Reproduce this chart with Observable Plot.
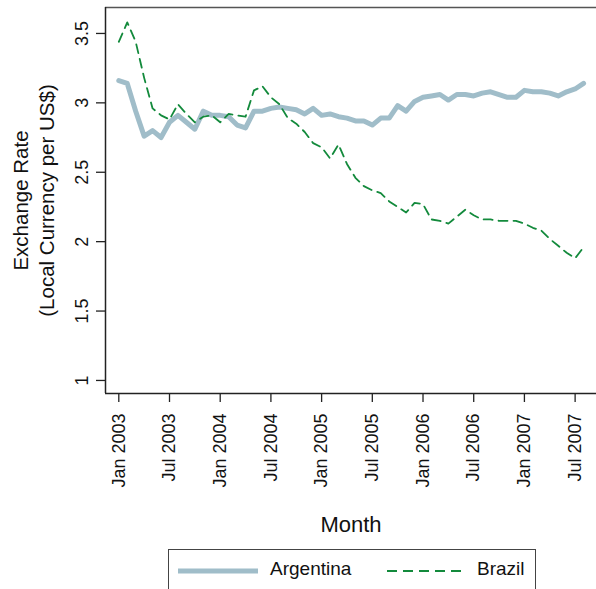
<!DOCTYPE html>
<html>
<head>
<meta charset="utf-8">
<script src="https://cdn.jsdelivr.net/npm/d3@7"></script>
<script src="https://cdn.jsdelivr.net/npm/@observablehq/plot@0.6"></script>
<style>
  body { margin: 0; background: #fff; font-family: "Liberation Sans", Arial, Helvetica, sans-serif; }
  #wrap { position: relative; width: 596px; height: 589px; overflow: hidden; background: #fff; }
  #legend { position: absolute; left: 168px; top: 549px; width: 368px; height: 50px; border: 1.5px solid #444; box-sizing: border-box; }
  .lg { position: absolute; font-size: 19px; color: #111; }
</style>
</head>
<body>
<div id="wrap">
  <div id="chart"></div>
  <div id="legend">
    <svg style="position:absolute;left:8px;top:16px" width="82" height="10"><line x1="1" y1="5" x2="81" y2="5" stroke="#a0bdc9" stroke-width="5"/></svg>
    <span class="lg" style="left:101px;top:8px">Argentina</span>
    <svg style="position:absolute;left:217px;top:16px" width="82" height="10"><line x1="1" y1="5" x2="81" y2="5" stroke="#138a3c" stroke-width="1.8" stroke-dasharray="10,6"/></svg>
    <span class="lg" style="left:308px;top:8px">Brazil</span>
  </div>
</div>
<script>
// Monthly observations, Jan 2003 .. Aug 2007 (index 0 = Jan 2003)
const months = ["2003-01","2003-02","2003-03","2003-04","2003-05","2003-06","2003-07","2003-08","2003-09","2003-10","2003-11","2003-12",
  "2004-01","2004-02","2004-03","2004-04","2004-05","2004-06","2004-07","2004-08","2004-09","2004-10","2004-11","2004-12",
  "2005-01","2005-02","2005-03","2005-04","2005-05","2005-06","2005-07","2005-08","2005-09","2005-10","2005-11","2005-12",
  "2006-01","2006-02","2006-03","2006-04","2006-05","2006-06","2006-07","2006-08","2006-09","2006-10","2006-11","2006-12",
  "2007-01","2007-02","2007-03","2007-04","2007-05","2007-06","2007-07","2007-08"];
const argentina = [3.16,3.14,2.94,2.76,2.80,2.75,2.86,2.91,2.86,2.81,2.94,2.91,
  2.91,2.90,2.84,2.82,2.94,2.94,2.96,2.97,2.96,2.95,2.92,2.96,
  2.91,2.92,2.90,2.89,2.87,2.87,2.84,2.89,2.89,2.98,2.94,3.01,
  3.04,3.05,3.06,3.02,3.06,3.06,3.05,3.07,3.08,3.06,3.04,3.04,
  3.09,3.08,3.08,3.07,3.05,3.08,3.10,3.14];
const brazil = [3.44,3.58,3.44,3.18,2.96,2.91,2.88,2.99,2.92,2.86,2.90,2.91,
  2.86,2.92,2.91,2.90,3.09,3.12,3.04,2.99,2.89,2.85,2.79,2.71,
  2.68,2.60,2.70,2.56,2.46,2.40,2.37,2.35,2.29,2.25,2.21,2.28,
  2.27,2.16,2.15,2.13,2.18,2.23,2.19,2.16,2.16,2.15,2.15,2.15,
  2.13,2.10,2.08,2.02,1.97,1.92,1.88,1.96];
const xTickIdx = [0,6,12,18,24,30,36,42,48,54];
const xTickLabels = ["Jan 2003","Jul 2003","Jan 2004","Jul 2004","Jan 2005","Jul 2005","Jan 2006","Jul 2006","Jan 2007","Jul 2007"];
const yTicks = [1,1.5,2,2.5,3,3.5];
const yTickLabels = ["1","1.5","2","2.5","3","3.5"];

const rows = months.map((m, i) => ({i, m, argentina: argentina[i], brazil: brazil[i]}));
const xDom = [-1.574, 56.53];
const yDom = [0.906, 3.687];
const pxX = 491 / (xDom[1] - xDom[0]);
const pxY = 386 / (yDom[1] - yDom[0]);
const tickLen = 9;
const font = "'Liberation Sans', Arial, Helvetica, sans-serif";

const chart = Plot.plot({
  width: 596,
  height: 545,
  marginLeft: 105,
  marginRight: 0,
  marginTop: 7,
  marginBottom: 152,
  style: {fontFamily: font, background: "#fff", overflow: "visible"},
  x: {type: "linear", domain: xDom, axis: null},
  y: {type: "linear", domain: yDom, axis: null},
  marks: [
    Plot.lineY(rows, {x: "i", y: "argentina", stroke: "#a0bdc9", strokeWidth: 5, strokeLinejoin: "round", strokeLinecap: "round"}),
    Plot.lineY(rows, {x: "i", y: "brazil", stroke: "#138a3c", strokeWidth: 1.8, strokeDasharray: "9,6"}),
    // frame: top, bottom, left
    Plot.ruleY([yDom[1]], {stroke: "#555", strokeWidth: 1.5}),
    Plot.ruleY([yDom[0]], {stroke: "#222", strokeWidth: 1.5}),
    Plot.ruleX([xDom[0]], {stroke: "#222", strokeWidth: 1.5}),
    // y ticks
    Plot.ruleY(yTicks, {y: d => d, x1: () => xDom[0] - tickLen / pxX, x2: () => xDom[0], stroke: "#222", strokeWidth: 1.3}),
    Plot.text(yTicks, {y: d => d, text: (d, i) => yTickLabels[i], frameAnchor: "left", dx: -23, rotate: -90, fontSize: 18, fill: "#111", textAnchor: "middle", lineAnchor: "middle"}),
    // x ticks
    Plot.ruleX(xTickIdx, {x: d => d, y1: () => yDom[0], y2: () => yDom[0] - tickLen / pxY, stroke: "#222", strokeWidth: 1.3}),
    Plot.text(xTickIdx, {x: d => d, text: (d, i) => xTickLabels[i], frameAnchor: "bottom", dy: 20, rotate: -90, textAnchor: "end", lineAnchor: "middle", fontSize: 18, fill: "#111"}),
    // axis titles
    Plot.text(["Month"], {frameAnchor: "bottom", dy: 131, text: d => d, fontSize: 22, fill: "#111", textAnchor: "middle", lineAnchor: "middle"}),
    Plot.text(["Exchange Rate"], {frameAnchor: "left", dx: -84, rotate: -90, text: d => d, fontSize: 20.5, fill: "#111", textAnchor: "middle", lineAnchor: "middle"}),
    Plot.text(["(Local Currency per US$)"], {frameAnchor: "left", dx: -58, rotate: -90, text: d => d, fontSize: 20.5, fill: "#111", textAnchor: "middle", lineAnchor: "middle"})
  ]
});
document.getElementById("chart").appendChild(chart);
</script>
</body>
</html>
